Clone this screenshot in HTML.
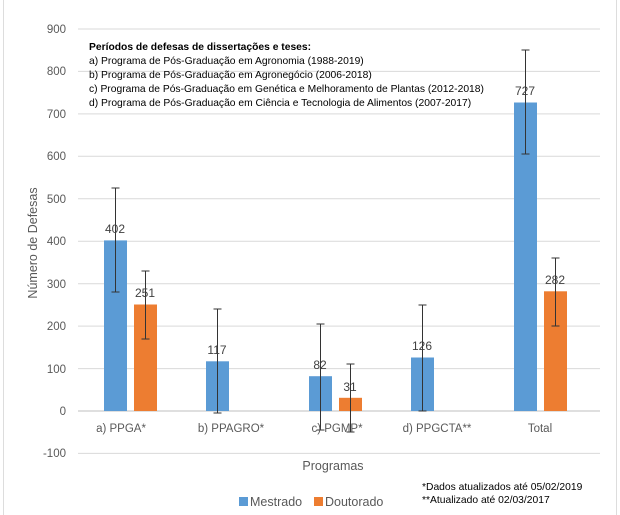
<!DOCTYPE html>
<html><head><meta charset="utf-8"><style>
body{margin:0;background:#fff;}
svg{display:block;font-family:"Liberation Sans",sans-serif;}
</style></head><body>
<svg width="620" height="515" viewBox="0 0 620 515">
<rect x="0" y="0" width="620" height="515" fill="#fff"/>
<line x1="3.5" y1="0" x2="3.5" y2="515" stroke="#ddd"/>
<line x1="616.5" y1="0" x2="616.5" y2="515" stroke="#ddd"/>
<g stroke="#d9d9d9" stroke-width="1">
<line x1="78" y1="29" x2="600" y2="29"/>
<line x1="78" y1="71.4" x2="600" y2="71.4"/>
<line x1="78" y1="113.9" x2="600" y2="113.9"/>
<line x1="78" y1="156.3" x2="600" y2="156.3"/>
<line x1="78" y1="198.8" x2="600" y2="198.8"/>
<line x1="78" y1="241.2" x2="600" y2="241.2"/>
<line x1="78" y1="283.7" x2="600" y2="283.7"/>
<line x1="78" y1="326.1" x2="600" y2="326.1"/>
<line x1="78" y1="368.6" x2="600" y2="368.6"/>
<line x1="78" y1="453.4" x2="600" y2="453.4"/>
</g>
<line x1="78" y1="411" x2="600" y2="411" stroke="#bfbfbf"/>
<g font-size="11.5" fill="#595959" text-anchor="end">
<text x="66" y="33">900</text><text x="66" y="75">800</text><text x="66" y="118">700</text>
<text x="66" y="160">600</text><text x="66" y="203">500</text><text x="66" y="245">400</text>
<text x="66" y="288">300</text><text x="66" y="330">200</text><text x="66" y="373">100</text>
<text x="66" y="415">0</text><text x="66" y="457">-100</text>
</g>
<text transform="translate(37,243) rotate(-90)" font-size="12.5" fill="#595959" text-anchor="middle">Número de Defesas</text>
<g fill="#5b9bd5">
<rect x="104" y="240.4" width="23" height="170.6"/>
<rect x="206" y="361.3" width="23" height="49.7"/>
<rect x="309" y="376.2" width="23" height="34.8"/>
<rect x="411" y="357.5" width="23" height="53.5"/>
<rect x="514" y="102.5" width="23" height="308.5"/>
</g>
<g fill="#ed7d31">
<rect x="134" y="304.5" width="23" height="106.5"/>
<rect x="339" y="397.8" width="23" height="13.2"/>
<rect x="544" y="291.3" width="23" height="119.7"/>
</g>
<g stroke="#333" stroke-width="1">
<path d="M115.5 188V292M111.5 188h8M111.5 292h8"/>
<path d="M145.5 271V339M141.5 271h8M141.5 339h8"/>
<path d="M217.5 309V413M213.5 309h8M213.5 413h8"/>
<path d="M320.5 324V430M316.5 324h8M316.5 430h8"/>
<path d="M350.5 364V432M346.5 364h8M346.5 432h8"/>
<path d="M422.5 305V411M418.5 305h8M418.5 411h8"/>
<path d="M525.5 50V154M521.5 50h8M521.5 154h8"/>
<path d="M555.5 258V326M551.5 258h8M551.5 326h8"/>
</g>
<g font-size="12" fill="#404040" text-anchor="middle">
<text x="115" y="233">402</text><text x="145" y="297">251</text>
<text x="217" y="354">117</text><text x="320" y="369">82</text><text x="350" y="391">31</text>
<text x="422" y="350">126</text><text x="525" y="95">727</text><text x="555" y="284">282</text>
</g>
<g font-size="11.5" fill="#595959" text-anchor="middle">
<text x="121" y="432">a) PPGA*</text><text x="231" y="432">b) PPAGRO*</text>
<text x="337" y="432">c) PGMP*</text><text x="437" y="432">d) PPGCTA**</text>
<text x="540" y="432">Total</text>
</g>
<text x="333" y="470" font-size="12.5" fill="#595959" text-anchor="middle">Programas</text>
<rect x="239" y="497" width="9" height="9" fill="#5b9bd5"/>
<text x="250" y="506" font-size="12.5" fill="#595959">Mestrado</text>
<rect x="314" y="497" width="9" height="9" fill="#ed7d31"/>
<text x="325" y="506" font-size="12.5" fill="#595959">Doutorado</text>
<g font-size="10.3" fill="#000">
<text x="422" y="490">*Dados atualizados até 05/02/2019</text>
<text x="422" y="503">**Atualizado até 02/03/2017</text>
</g>
<g font-size="10.3" fill="#000">
<text x="89" y="50" font-weight="bold">Períodos de defesas de dissertações e teses:</text>
<text x="89" y="64">a) Programa de Pós-Graduação em Agronomia (1988-2019)</text>
<text x="89" y="78">b) Programa de Pós-Graduação em Agronegócio (2006-2018)</text>
<text x="89" y="92">c) Programa de Pós-Graduação em Genética e Melhoramento de Plantas (2012-2018)</text>
<text x="89" y="106">d) Programa de Pós-Graduação em Ciência e Tecnologia de Alimentos (2007-2017)</text>
</g>
</svg>
</body></html>
